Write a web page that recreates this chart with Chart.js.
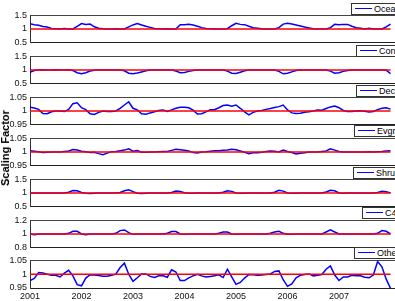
<!DOCTYPE html>
<html><head><meta charset="utf-8">
<script src="https://cdn.jsdelivr.net/npm/chart.js@4.4.1/dist/chart.umd.min.js"></script>
<style>
html,body{margin:0;padding:0;background:#fff;}
body{width:395px;height:301px;overflow:hidden;position:relative;font-family:"Liberation Sans",Arial,sans-serif;}
canvas{position:absolute;left:0;}
.lg{position:absolute;height:12px;width:70px;box-sizing:border-box;border:1px solid #333;background:#fff;z-index:5;font-size:9px;color:#000;}
.lg .ln{position:absolute;left:3px;width:17px;top:4px;height:0;border-top:1.5px solid #0000ff;}
.lg .tx{position:absolute;left:22px;top:0;line-height:10px;white-space:nowrap;}
#ytitle{position:absolute;left:5px;top:148px;transform:translate(-50%,-50%) rotate(-90deg);font-weight:bold;font-size:11px;white-space:nowrap;color:#000;z-index:5;}
</style>
</head><body>
<div id="ytitle">Scaling Factor</div>
<script>
const startYear = 2001;
const monthsPerYear = 12;
const yearTicks = [2001, 2002, 2003, 2004, 2005, 2006, 2007];
const refYears = [2001, 2008];
const refLine = [1, 1];

const labels = ['Ocean', 'Conif', 'Decid', 'Evgrn', 'Shrub', 'C4', 'Other'];

const ocean = [1.19,1.16,1.14,1.09,1.07,1.02,1.01,1.0,1.02,1.0,
 1.0,1.10,1.20,1.17,1.18,1.08,1.03,1.01,1.0,1.0,
 1.01,1.0,1.0,1.08,1.15,1.20,1.15,1.10,1.06,1.02,
 1.01,1.0,1.01,1.0,1.0,1.16,1.16,1.17,1.15,1.10,
 1.05,1.02,1.01,1.0,1.0,1.0,1.01,1.12,1.21,1.17,
 1.16,1.10,1.05,1.03,1.01,1.0,1.0,1.0,1.05,1.18,
 1.21,1.18,1.15,1.11,1.07,1.04,1.01,1.0,1.0,1.0,
 1.05,1.17,1.16,1.17,1.17,1.10,1.05,1.03,1.0,1.03,
 1.0,1.0,1.0,1.08,1.18];

const conifer = [0.92,0.98,1.0,1.01,1.0,1.0,1.01,1.0,1.0,1.01,
 0.98,0.90,0.86,0.90,0.96,0.99,1.0,1.0,1.0,1.0,
 1.0,1.0,0.97,0.88,0.86,0.89,0.93,0.97,1.0,1.0,
 1.0,1.0,1.0,1.0,0.96,0.90,0.91,0.95,0.98,1.0,
 1.0,1.0,1.0,1.0,1.0,1.0,0.96,0.88,0.87,0.92,
 0.97,1.0,1.0,1.0,1.0,1.0,1.0,1.0,0.95,0.86,
 0.88,0.93,0.98,1.0,1.0,1.0,1.0,1.0,1.0,1.0,
 0.96,0.88,0.90,0.95,0.98,1.0,1.0,1.0,1.0,1.0,
 1.0,1.0,1.0,0.99,0.87];

const deciduous = [1.014,1.011,1.006,0.991,0.99,0.997,1.0,1.0,0.998,1.006,
 1.027,1.03,1.012,1.005,0.99,0.987,0.995,1.0,0.998,0.998,
 1.0,1.01,1.022,1.034,1.01,1.004,0.99,0.988,0.993,0.997,
 1.002,1.004,0.998,1.004,1.01,1.014,1.014,1.012,1.003,0.989,
 0.99,0.997,1.005,1.005,1.012,1.02,1.022,1.018,1.022,1.01,
 0.997,0.986,0.995,1.0,1.002,1.006,1.009,1.013,1.016,1.022,
 1.004,0.993,0.991,0.992,0.995,0.997,1.0,1.004,1.003,1.009,
 1.015,1.018,1.012,1.002,0.998,0.998,1.0,1.001,0.999,0.996,
 0.998,1.005,1.01,1.012,1.007];

const evergreen = [1.005,1.003,1.001,0.998,0.999,1.0,1.0,1.0,1.002,1.004,
 1.009,1.007,1.003,1.001,0.998,0.999,0.994,0.99,0.996,1.001,
 1.002,1.005,1.007,1.012,1.003,1.005,0.999,0.999,1.0,1.0,
 1.001,1.002,1.002,1.006,1.01,1.008,1.006,1.004,0.998,0.996,
 1.0,1.001,1.003,1.005,1.005,1.006,1.007,1.01,1.008,1.004,
 0.999,0.994,0.997,0.997,0.999,1.002,1.004,1.003,1.0,1.007,
 1.002,0.998,0.993,0.995,0.997,1.0,1.0,1.0,1.002,1.004,
 1.012,1.007,1.002,1.0,1.0,1.0,1.0,1.0,1.0,1.001,
 1.0,1.001,1.002,1.004,1.005];

const shrub = [1.0,1.0,1.0,1.0,1.0,1.0,1.0,1.0,1.0,1.03,
 1.09,1.08,1.02,0.99,0.98,0.99,1.0,1.0,1.0,1.0,
 1.0,1.02,1.08,1.12,1.05,0.99,0.98,0.99,1.0,1.0,
 1.0,1.0,1.0,1.02,1.07,1.06,1.01,0.99,0.99,1.0,
 1.0,1.0,1.0,1.0,1.0,1.03,1.08,1.06,1.0,0.99,
 0.99,1.0,1.0,1.0,1.0,1.0,1.0,1.03,1.10,1.07,
 1.0,0.99,0.99,1.0,1.0,1.0,1.0,1.0,1.0,1.04,
 1.10,1.08,1.0,0.99,1.0,1.0,1.0,1.0,1.0,1.0,
 1.0,1.02,1.06,1.05,1.0];

const c4 = [1.0,0.99,1.0,1.0,1.0,1.0,1.0,1.0,1.0,1.01,
 1.04,1.04,1.0,0.99,1.0,1.0,1.0,1.0,1.0,1.0,
 1.01,1.05,1.06,1.02,0.995,1.0,1.0,1.0,1.0,1.0,
 1.0,1.0,1.01,1.035,1.035,1.0,0.995,1.0,1.0,1.0,
 1.0,1.0,1.0,1.0,1.01,1.03,1.03,1.0,0.995,1.0,
 1.0,1.0,1.0,1.0,1.0,1.0,1.01,1.03,1.04,1.01,
 0.995,0.995,1.0,1.0,1.0,1.0,1.0,1.0,1.0,1.03,
 1.06,1.03,1.0,1.0,1.0,1.0,1.0,1.0,1.0,1.0,
 1.0,1.01,1.05,1.04,1.0];

const other = [0.977,0.985,1.006,1.004,1.0,0.996,0.996,0.99,1.004,1.014,
 0.994,0.962,0.958,0.986,0.998,0.997,0.995,0.993,0.993,0.996,
 1.0,1.024,1.04,1.0,0.974,0.987,1.001,1.001,0.992,0.988,
 0.994,0.994,0.989,1.016,1.008,0.977,0.977,0.987,0.994,1.0,
 0.994,0.99,0.992,0.994,0.998,0.988,1.018,0.99,0.963,0.97,
 0.986,0.999,0.998,0.996,0.997,0.999,1.001,1.01,1.012,0.98,
 0.956,0.965,0.987,0.996,0.999,1.001,0.994,0.996,0.999,1.018,
 1.03,0.997,0.977,0.99,0.99,0.996,0.994,0.994,0.989,0.987,
 0.997,1.046,1.027,0.982,0.949];

const ticksWide = [0.5, 1, 1.5];
const ticksNarrow = [0.95, 1, 1.05];
const ticksC4 = [0.8, 1, 1.2];

const series = [ocean, conifer, deciduous, evergreen, shrub, c4, other];
const yTicks = [ticksWide, ticksWide, ticksNarrow, ticksNarrow, ticksWide, ticksC4, ticksNarrow];

// layout (pixels)
const panelTops = [15, 56, 97, 138, 179, 220, 260];
const plotH = 28;
const legendPos = [[351,3],[356,45],[356,85],[354,125],[353,167],[362,207],[354,247]];
const canvasW = 430;
const plotLeft = 30;
const pxPerYear = 51.5;
const xMax = startYear + (canvasW - plotLeft) / pxPerYear;
const FONT = '"Liberation Sans", Arial, sans-serif';

series.forEach((vals, i) => {
  const isLast = i === series.length - 1;
  const padTop = 8;
  const axisH = isLast ? 14 : 0;
  const padBottom = isLast ? 0 : 8;
  const c = document.createElement('canvas');
  c.width = canvasW;
  c.height = padTop + plotH + axisH + padBottom;
  c.style.top = (panelTops[i] - padTop) + 'px';
  document.body.appendChild(c);
  const tk = yTicks[i];
  new Chart(c, {
    type: 'line',
    data: {
      datasets: [
        { label: 'ref', data: refYears.map((x, k) => ({ x, y: refLine[k] })),
          borderColor: '#ff0000', borderWidth: 1.5, pointRadius: 0, tension: 0 },
        { label: labels[i], data: vals.map((v, k) => ({ x: startYear + k / monthsPerYear, y: v })),
          borderColor: '#0000ff', borderWidth: 1.5, pointRadius: 0, tension: 0 }
      ]
    },
    options: {
      responsive: false, animation: false, devicePixelRatio: 1,
      layout: { padding: { top: padTop, bottom: padBottom, left: 0, right: 0 } },
      plugins: { legend: { display: false }, tooltip: { enabled: false } },
      scales: {
        x: {
          type: 'linear', position: 'bottom', min: startYear, max: xMax,
          afterBuildTicks: s => { s.ticks = yearTicks.map(v => ({ value: v })); },
          afterFit: s => { s.height = axisH; },
          grid: { display: false, drawTicks: false },
          border: { display: true, color: '#222', width: 1 },
          ticks: { display: isLast, padding: 3, color: '#111', autoSkip: false, maxRotation: 0,
                   font: { size: 9, family: FONT }, callback: v => String(v) }
        },
        xTop: {
          type: 'linear', position: 'top', min: startYear, max: xMax,
          afterFit: s => { s.height = 0; },
          grid: { display: false, drawTicks: false },
          border: { display: true, color: '#444', width: 1 },
          ticks: { display: false }
        },
        y: {
          type: 'linear', position: 'left', min: tk[0], max: tk[tk.length - 1],
          afterBuildTicks: s => { s.ticks = tk.map(v => ({ value: v })); },
          afterFit: s => { s.width = plotLeft; },
          grid: { display: false, drawTicks: false },
          border: { display: true, color: '#333', width: 1 },
          ticks: { padding: 3, color: '#111', font: { size: 9, family: FONT }, callback: v => String(v) }
        }
      }
    }
  });
  const lg = document.createElement('div');
  lg.className = 'lg';
  lg.style.left = legendPos[i][0] + 'px';
  lg.style.top = legendPos[i][1] + 'px';
  const ln = document.createElement('div'); ln.className = 'ln';
  const tx = document.createElement('div'); tx.className = 'tx'; tx.textContent = labels[i];
  lg.appendChild(ln); lg.appendChild(tx);
  document.body.appendChild(lg);
});
</script>
</body></html>
